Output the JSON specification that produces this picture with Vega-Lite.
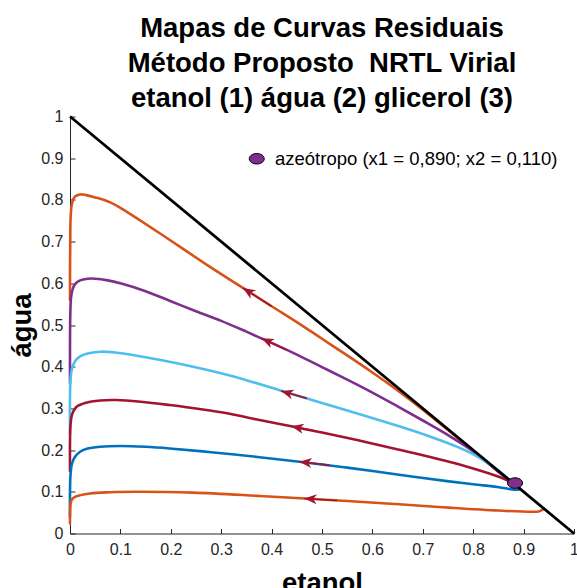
{
  "$schema": "https://vega.github.io/schema/vega-lite/v6.json",
  "width": 504,
  "height": 417,
  "autosize": {"type": "none"},
  "padding": {"left": 70, "top": 116.5, "right": 3, "bottom": 54.5},
  "background": "white",
  "config": {"view": {"stroke": null}, "font": "Liberation Sans"},
  "title": {
    "text": ["Mapas de Curvas Residuais", "Método Proposto \u00a0NRTL Virial", "etanol (1) água (2) glicerol (3)"],
    "fontSize": 27.5,
    "fontWeight": "bold",
    "font": "Liberation Sans",
    "color": "black",
    "lineHeight": 35,
    "anchor": "middle",
    "offset": -4
  },
  "datasets": {
    "curves": [
      {"curve": "c1", "i": 0, "x": 0, "y": 0.56},
      {"curve": "c1", "i": 1, "x": 0, "y": 0.62},
      {"curve": "c1", "i": 2, "x": 0.0005, "y": 0.70},
      {"curve": "c1", "i": 3, "x": 0.001, "y": 0.75},
      {"curve": "c1", "i": 4, "x": 0.003, "y": 0.785},
      {"curve": "c1", "i": 5, "x": 0.006, "y": 0.800},
      {"curve": "c1", "i": 6, "x": 0.01, "y": 0.808},
      {"curve": "c1", "i": 7, "x": 0.02, "y": 0.813},
      {"curve": "c1", "i": 8, "x": 0.03, "y": 0.812},
      {"curve": "c1", "i": 9, "x": 0.05, "y": 0.806},
      {"curve": "c1", "i": 10, "x": 0.065, "y": 0.801},
      {"curve": "c1", "i": 11, "x": 0.08, "y": 0.794},
      {"curve": "c1", "i": 12, "x": 0.10, "y": 0.781},
      {"curve": "c1", "i": 13, "x": 0.13, "y": 0.758},
      {"curve": "c1", "i": 14, "x": 0.178, "y": 0.720},
      {"curve": "c1", "i": 15, "x": 0.277, "y": 0.640},
      {"curve": "c1", "i": 16, "x": 0.343, "y": 0.589},
      {"curve": "c1", "i": 17, "x": 0.40, "y": 0.545},
      {"curve": "c1", "i": 18, "x": 0.45, "y": 0.507},
      {"curve": "c1", "i": 19, "x": 0.50, "y": 0.467},
      {"curve": "c1", "i": 20, "x": 0.55, "y": 0.427},
      {"curve": "c1", "i": 21, "x": 0.60, "y": 0.386},
      {"curve": "c1", "i": 22, "x": 0.65, "y": 0.343},
      {"curve": "c1", "i": 23, "x": 0.70, "y": 0.297},
      {"curve": "c1", "i": 24, "x": 0.75, "y": 0.248},
      {"curve": "c1", "i": 25, "x": 0.80, "y": 0.198},
      {"curve": "c1", "i": 26, "x": 0.85, "y": 0.148},
      {"curve": "c1", "i": 27, "x": 0.883, "y": 0.117},

      {"curve": "c2", "i": 0, "x": 0, "y": 0.36},
      {"curve": "c2", "i": 1, "x": 0, "y": 0.45},
      {"curve": "c2", "i": 2, "x": 0.0005, "y": 0.52},
      {"curve": "c2", "i": 3, "x": 0.002, "y": 0.565},
      {"curve": "c2", "i": 4, "x": 0.005, "y": 0.585},
      {"curve": "c2", "i": 5, "x": 0.01, "y": 0.598},
      {"curve": "c2", "i": 6, "x": 0.02, "y": 0.607},
      {"curve": "c2", "i": 7, "x": 0.035, "y": 0.611},
      {"curve": "c2", "i": 8, "x": 0.05, "y": 0.611},
      {"curve": "c2", "i": 9, "x": 0.075, "y": 0.607},
      {"curve": "c2", "i": 10, "x": 0.10, "y": 0.600},
      {"curve": "c2", "i": 11, "x": 0.15, "y": 0.581},
      {"curve": "c2", "i": 12, "x": 0.20, "y": 0.557},
      {"curve": "c2", "i": 13, "x": 0.25, "y": 0.533},
      {"curve": "c2", "i": 14, "x": 0.30, "y": 0.510},
      {"curve": "c2", "i": 15, "x": 0.35, "y": 0.484},
      {"curve": "c2", "i": 16, "x": 0.40, "y": 0.457},
      {"curve": "c2", "i": 17, "x": 0.45, "y": 0.429},
      {"curve": "c2", "i": 18, "x": 0.50, "y": 0.399},
      {"curve": "c2", "i": 19, "x": 0.55, "y": 0.369},
      {"curve": "c2", "i": 20, "x": 0.60, "y": 0.338},
      {"curve": "c2", "i": 21, "x": 0.65, "y": 0.305},
      {"curve": "c2", "i": 22, "x": 0.70, "y": 0.271},
      {"curve": "c2", "i": 23, "x": 0.75, "y": 0.236},
      {"curve": "c2", "i": 24, "x": 0.80, "y": 0.197},
      {"curve": "c2", "i": 25, "x": 0.85, "y": 0.148},
      {"curve": "c2", "i": 26, "x": 0.883, "y": 0.117},

      {"curve": "c3", "i": 0, "x": 0, "y": 0.24},
      {"curve": "c3", "i": 1, "x": 0, "y": 0.33},
      {"curve": "c3", "i": 2, "x": 0.001, "y": 0.37},
      {"curve": "c3", "i": 3, "x": 0.004, "y": 0.395},
      {"curve": "c3", "i": 4, "x": 0.01, "y": 0.413},
      {"curve": "c3", "i": 5, "x": 0.02, "y": 0.425},
      {"curve": "c3", "i": 6, "x": 0.04, "y": 0.433},
      {"curve": "c3", "i": 7, "x": 0.06, "y": 0.436},
      {"curve": "c3", "i": 8, "x": 0.09, "y": 0.434},
      {"curve": "c3", "i": 9, "x": 0.13, "y": 0.427},
      {"curve": "c3", "i": 10, "x": 0.18, "y": 0.416},
      {"curve": "c3", "i": 11, "x": 0.244, "y": 0.400},
      {"curve": "c3", "i": 12, "x": 0.317, "y": 0.379},
      {"curve": "c3", "i": 13, "x": 0.42, "y": 0.342},
      {"curve": "c3", "i": 14, "x": 0.50, "y": 0.313},
      {"curve": "c3", "i": 15, "x": 0.58, "y": 0.284},
      {"curve": "c3", "i": 16, "x": 0.653, "y": 0.257},
      {"curve": "c3", "i": 17, "x": 0.713, "y": 0.233},
      {"curve": "c3", "i": 18, "x": 0.77, "y": 0.207},
      {"curve": "c3", "i": 19, "x": 0.812, "y": 0.182},
      {"curve": "c3", "i": 20, "x": 0.85, "y": 0.151},
      {"curve": "c3", "i": 21, "x": 0.883, "y": 0.117},

      {"curve": "c4", "i": 0, "x": 0, "y": 0.15},
      {"curve": "c4", "i": 1, "x": 0, "y": 0.22},
      {"curve": "c4", "i": 2, "x": 0.001, "y": 0.26},
      {"curve": "c4", "i": 3, "x": 0.004, "y": 0.285},
      {"curve": "c4", "i": 4, "x": 0.013, "y": 0.304},
      {"curve": "c4", "i": 5, "x": 0.03, "y": 0.313},
      {"curve": "c4", "i": 6, "x": 0.06, "y": 0.319},
      {"curve": "c4", "i": 7, "x": 0.092, "y": 0.320},
      {"curve": "c4", "i": 8, "x": 0.14, "y": 0.316},
      {"curve": "c4", "i": 9, "x": 0.198, "y": 0.308},
      {"curve": "c4", "i": 10, "x": 0.26, "y": 0.298},
      {"curve": "c4", "i": 11, "x": 0.317, "y": 0.287},
      {"curve": "c4", "i": 12, "x": 0.376, "y": 0.272},
      {"curve": "c4", "i": 13, "x": 0.439, "y": 0.257},
      {"curve": "c4", "i": 14, "x": 0.50, "y": 0.242},
      {"curve": "c4", "i": 15, "x": 0.574, "y": 0.223},
      {"curve": "c4", "i": 16, "x": 0.653, "y": 0.201},
      {"curve": "c4", "i": 17, "x": 0.752, "y": 0.172},
      {"curve": "c4", "i": 18, "x": 0.80, "y": 0.156},
      {"curve": "c4", "i": 19, "x": 0.851, "y": 0.136},
      {"curve": "c4", "i": 20, "x": 0.883, "y": 0.119},

      {"curve": "c5", "i": 0, "x": 0, "y": 0.04},
      {"curve": "c5", "i": 1, "x": 0, "y": 0.10},
      {"curve": "c5", "i": 2, "x": 0.001, "y": 0.14},
      {"curve": "c5", "i": 3, "x": 0.004, "y": 0.168},
      {"curve": "c5", "i": 4, "x": 0.01, "y": 0.184},
      {"curve": "c5", "i": 5, "x": 0.02, "y": 0.196},
      {"curve": "c5", "i": 6, "x": 0.033, "y": 0.203},
      {"curve": "c5", "i": 7, "x": 0.06, "y": 0.208},
      {"curve": "c5", "i": 8, "x": 0.099, "y": 0.210},
      {"curve": "c5", "i": 9, "x": 0.15, "y": 0.208},
      {"curve": "c5", "i": 10, "x": 0.198, "y": 0.204},
      {"curve": "c5", "i": 11, "x": 0.28, "y": 0.195},
      {"curve": "c5", "i": 12, "x": 0.376, "y": 0.183},
      {"curve": "c5", "i": 13, "x": 0.455, "y": 0.172},
      {"curve": "c5", "i": 14, "x": 0.55, "y": 0.158},
      {"curve": "c5", "i": 15, "x": 0.653, "y": 0.141},
      {"curve": "c5", "i": 16, "x": 0.752, "y": 0.125},
      {"curve": "c5", "i": 17, "x": 0.80, "y": 0.118},
      {"curve": "c5", "i": 18, "x": 0.851, "y": 0.111},
      {"curve": "c5", "i": 19, "x": 0.875, "y": 0.106},
      {"curve": "c5", "i": 20, "x": 0.888, "y": 0.105},
      {"curve": "c5", "i": 21, "x": 0.893, "y": 0.107},

      {"curve": "c6", "i": 0, "x": 0, "y": 0.024},
      {"curve": "c6", "i": 1, "x": 0, "y": 0.05},
      {"curve": "c6", "i": 2, "x": 0.001, "y": 0.07},
      {"curve": "c6", "i": 3, "x": 0.004, "y": 0.082},
      {"curve": "c6", "i": 4, "x": 0.01, "y": 0.088},
      {"curve": "c6", "i": 5, "x": 0.04, "y": 0.096},
      {"curve": "c6", "i": 6, "x": 0.08, "y": 0.099},
      {"curve": "c6", "i": 7, "x": 0.132, "y": 0.100},
      {"curve": "c6", "i": 8, "x": 0.244, "y": 0.098},
      {"curve": "c6", "i": 9, "x": 0.376, "y": 0.090},
      {"curve": "c6", "i": 10, "x": 0.465, "y": 0.084},
      {"curve": "c6", "i": 11, "x": 0.55, "y": 0.078},
      {"curve": "c6", "i": 12, "x": 0.653, "y": 0.070},
      {"curve": "c6", "i": 13, "x": 0.752, "y": 0.062},
      {"curve": "c6", "i": 14, "x": 0.85, "y": 0.055},
      {"curve": "c6", "i": 15, "x": 0.917, "y": 0.052},
      {"curve": "c6", "i": 16, "x": 0.930, "y": 0.053},
      {"curve": "c6", "i": 17, "x": 0.936, "y": 0.056},
      {"curve": "c6", "i": 18, "x": 0.940, "y": 0.060}
    ],
    "edge": [
      {"x": 0, "y": 1},
      {"x": 1, "y": 0}
    ],
    "arrows": [
      {"curve": "c1", "x": 0.343, "y": 0.589, "x_tail": 0.40, "y_tail": 0.545, "heading": 32.6},
      {"curve": "c2", "x": 0.380, "y": 0.468, "x_tail": 0.43, "y_tail": 0.440, "heading": 24.5},
      {"curve": "c3", "x": 0.419, "y": 0.342, "x_tail": 0.47, "y_tail": 0.324, "heading": 17.0},
      {"curve": "c4", "x": 0.439, "y": 0.257, "x_tail": 0.49, "y_tail": 0.245, "heading": 11.5},
      {"curve": "c5", "x": 0.455, "y": 0.172, "x_tail": 0.515, "y_tail": 0.164, "heading": 6.2},
      {"curve": "c6", "x": 0.465, "y": 0.084, "x_tail": 0.53, "y_tail": 0.079, "heading": 3.3}
    ],
    "azeotrope": [
      {"label": "azeótropo (x1 = 0,890; x2 = 0,110)", "x": 0.883, "y": 0.121}
    ]
  },
  "layer": [
    {
      "data": {"name": "curves"},
      "mark": {"type": "line", "strokeWidth": 2.6, "strokeCap": "round", "strokeJoin": "round", "interpolate": "catmull-rom", "clip": false},
      "encoding": {
        "x": {
          "field": "x", "type": "quantitative",
          "scale": {"domain": [0, 1], "nice": false, "zero": false},
          "axis": {
            "values": [0, 0.1, 0.2, 0.3, 0.4, 0.5, 0.6, 0.7, 0.8, 0.9, 1],
            "format": ".1~f",
            "grid": false,
            "tickSize": -5,
            "tickColor": "#262626",
            "domainColor": "#262626",
            "domainWidth": 1,
            "labelColor": "#262626",
            "labelFont": "Liberation Sans",
            "labelFontSize": 16,
            "labelPadding": 13,
            "labelFlush": false,
            "title": "etanol",
            "titleFont": "Liberation Sans",
            "titleFontSize": 27.5,
            "titleFontWeight": "bold",
            "titleColor": "black",
            "titlePadding": 12
          }
        },
        "y": {
          "field": "y", "type": "quantitative",
          "scale": {"domain": [0, 1], "nice": false, "zero": false},
          "axis": {
            "values": [0, 0.1, 0.2, 0.3, 0.4, 0.5, 0.6, 0.7, 0.8, 0.9, 1],
            "format": ".1~f",
            "grid": false,
            "tickSize": -5,
            "tickColor": "#262626",
            "domainColor": "#262626",
            "domainWidth": 1,
            "labelColor": "#262626",
            "labelFont": "Liberation Sans",
            "labelFontSize": 16,
            "labelPadding": 12,
            "labelFlush": false,
            "title": "água",
            "titleFont": "Liberation Sans",
            "titleFontSize": 27.5,
            "titleFontWeight": "bold",
            "titleColor": "black",
            "titlePadding": 4
          }
        },
        "order": {"field": "i", "type": "quantitative"},
        "detail": {"field": "curve"},
        "stroke": {
          "field": "curve", "type": "nominal",
          "scale": {"domain": ["c1", "c2", "c3", "c4", "c5", "c6"], "range": ["#D95319", "#7E2F8E", "#4DBEEE", "#A2142F", "#0072BD", "#D95319"]},
          "legend": null
        }
      }
    },
    {
      "data": {"name": "edge"},
      "mark": {"type": "line", "color": "black", "strokeWidth": 2.8},
      "encoding": {
        "x": {"field": "x", "type": "quantitative"},
        "y": {"field": "y", "type": "quantitative"}
      }
    },
    {
      "data": {"name": "arrows"},
      "mark": {"type": "rule", "color": "#A2142F", "strokeWidth": 1.6},
      "encoding": {
        "x": {"field": "x", "type": "quantitative"},
        "y": {"field": "y", "type": "quantitative"},
        "x2": {"field": "x_tail"},
        "y2": {"field": "y_tail"}
      }
    },
    {
      "data": {"name": "arrows"},
      "mark": {"type": "point", "filled": true, "color": "#A2142F", "opacity": 1, "size": 240, "shape": "M0,0L1.6,-0.65L1.15,0L1.6,0.65Z"},
      "encoding": {
        "x": {"field": "x", "type": "quantitative"},
        "y": {"field": "y", "type": "quantitative"},
        "angle": {"field": "heading", "type": "quantitative", "scale": null}
      }
    },
    {
      "data": {"name": "azeotrope"},
      "mark": {"type": "point", "filled": true, "opacity": 1, "size": 225, "stroke": "black", "strokeWidth": 1, "shape": "M-1,0A1,0.7,0,1,1,1,0A1,0.7,0,1,1,-1,0Z"},
      "encoding": {
        "x": {"field": "x", "type": "quantitative"},
        "y": {"field": "y", "type": "quantitative"},
        "fill": {
          "field": "label", "type": "nominal",
          "scale": {"range": ["#7E2F8E"]},
          "legend": {
            "title": null,
            "orient": "none",
            "legendX": 177.5,
            "legendY": 33,
            "padding": 0,
            "symbolType": "M-1,0A1,0.7,0,1,1,1,0A1,0.7,0,1,1,-1,0Z",
            "symbolSize": 225,
            "symbolStrokeColor": "black",
            "symbolStrokeWidth": 1,
            "symbolOpacity": 1,
            "labelFont": "Liberation Sans",
            "labelFontSize": 18.5,
            "labelColor": "black",
            "labelOffset": 9,
            "labelLimit": 400
          }
        }
      }
    }
  ]
}
